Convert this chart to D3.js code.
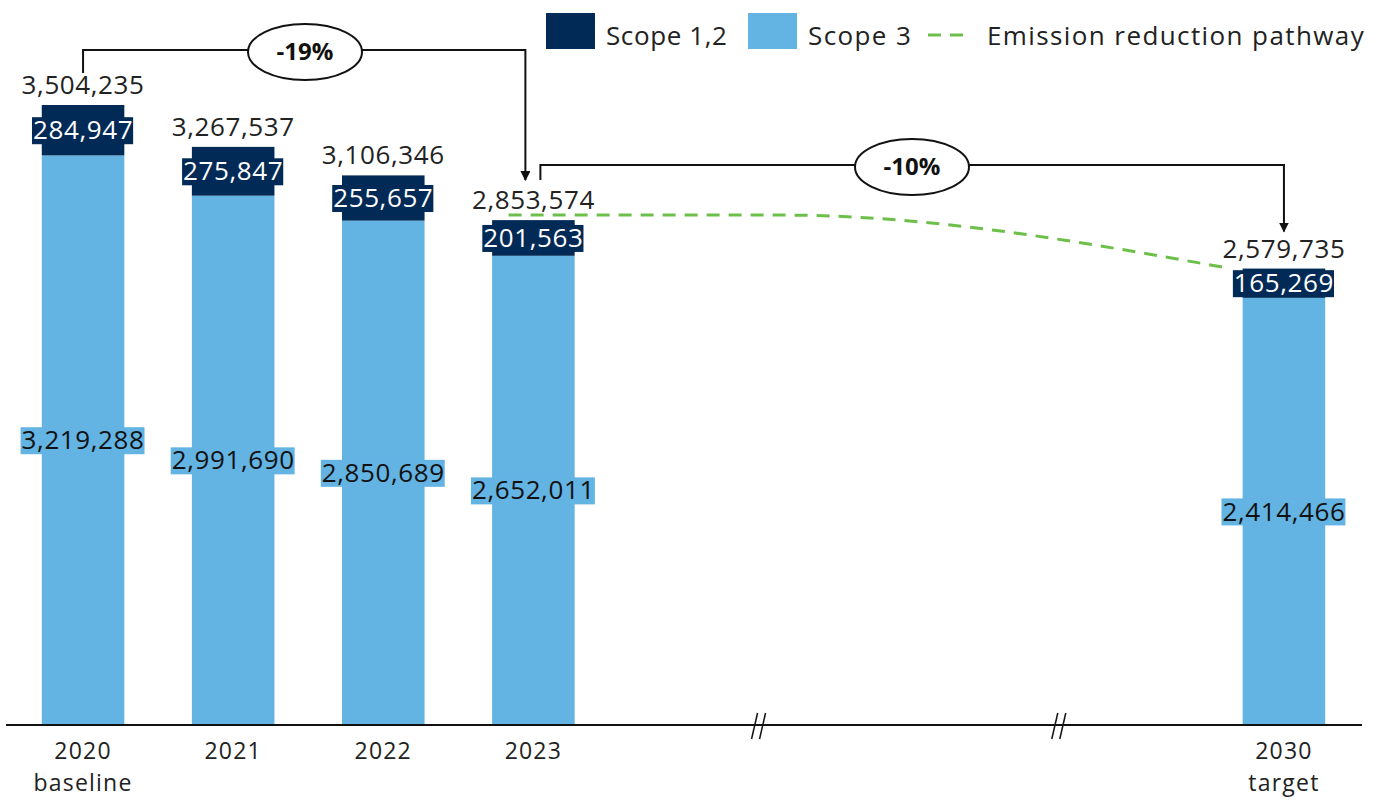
<!DOCTYPE html>
<html>
<head>
<meta charset="utf-8">
<script src="https://cdn.jsdelivr.net/npm/d3@7"></script>
<style>
  body { margin: 0; background: #fff; }
  text { font-family: "Open Sans", sans-serif; }
</style>
</head>
<body>
<svg width="1388" height="800"></svg>
<script>
var years = ["2020", "2021", "2022", "2023", "2030"];
var subLabels = ["baseline", "", "", "", "target"];
var scope12 = [284947, 275847, 255657, 201563, 165269];
var scope3 = [3219288, 2991690, 2850689, 2652011, 2414466];
var totals = [3504235, 3267537, 3106346, 2853574, 2579735];
// empty slots between 2023 and 2030
var slots = ["2020", "2021", "2022", "2023", "g1", "g2", "g3", "g4", "2030"];
var breaks = ["g1", "g3"];
var pathSlots = ["2023", "g2", "2030"];
var pathValues = [2882000, 2882000, 2583000];
var changes = ["-19%", "-10%"];

var svg = d3.select("svg"),
    width = 1388,
    height = 800,
    baseY = 725,
    fs = 26;

var dark = "#022a56", light = "#63b3e3", green = "#6cc04a";
var fmt = d3.format(",");

var x = d3.scaleBand()
  .domain(slots)
  .range([8, 1359])
  .paddingInner(0.45)
  .paddingOuter(0.225);

var y = d3.scaleLinear()
  .domain([0, totals[0]])
  .range([baseY, 105]);

var bw = x.bandwidth();
var cx = function(s) { return x(s) + bw / 2; };

var data = years.map(function(yr, i) {
  return {year: yr, sub: subLabels[i], s12: scope12[i], s3: scope3[i], total: totals[i]};
});

// bars
var g = svg.append("g");
var bar = g.selectAll("g.bar").data(data).enter().append("g").attr("class", "bar");

bar.append("rect")
  .attr("x", function(d) { return x(d.year); })
  .attr("width", bw)
  .attr("y", function(d) { return y(d.s3); })
  .attr("height", function(d) { return baseY - y(d.s3); })
  .attr("fill", light);

bar.append("rect")
  .attr("x", function(d) { return x(d.year); })
  .attr("width", bw)
  .attr("y", function(d) { return y(d.total); })
  .attr("height", function(d) { return y(d.s3) - y(d.total); })
  .attr("fill", dark);

// labels with background boxes
function boxLabel(sel, ty, txt, fill, color) {
  var t = sel.append("text")
    .attr("x", function(d) { return cx(d.year); })
    .attr("y", ty)
    .attr("text-anchor", "middle")
    .attr("dy", "0.35em")
    .attr("font-size", fs)
    .attr("letter-spacing", 0.6)
    .attr("fill", color)
    .text(txt);
  t.each(function() {
    var b = this.getBBox();
    var node = this;
    d3.select(this.parentNode).insert("rect", function() { return node; })
      .attr("x", b.x - 1).attr("y", ty - 13)
      .attr("width", b.width + 1).attr("height", 27)
      .attr("fill", fill);
  });
}
bar.each(function(d) {
  var s = d3.select(this);
  boxLabel(s, (y(d.total) + y(d.s3)) / 2, fmt(d.s12), dark, "#fff");
  boxLabel(s, (y(d.s3) + baseY) / 2, fmt(d.s3), light, "#111");
});

bar.append("text")
  .attr("x", function(d) { return cx(d.year); })
  .attr("y", function(d) { return y(d.total) - 11; })
  .attr("text-anchor", "middle")
  .attr("font-size", fs)
  .attr("letter-spacing", 0.6)
  .attr("fill", "#222")
  .text(function(d) { return fmt(d.total); });

// axis
svg.append("line")
  .attr("x1", 6).attr("x2", 1362)
  .attr("y1", baseY).attr("y2", baseY)
  .attr("stroke", "#111").attr("stroke-width", 2);

breaks.forEach(function(s) {
  var bx = x(s) + x.step() * (1 - x.paddingInner() / 2);
  [-4, 4].forEach(function(o) {
    svg.append("line")
      .attr("x1", bx + o + 3).attr("y1", baseY - 12)
      .attr("x2", bx + o - 3).attr("y2", baseY + 14)
      .attr("stroke", "#111").attr("stroke-width", 1.5);
  });
});

var xl = svg.append("g").selectAll("g").data(data).enter().append("g")
  .attr("font-size", 23)
  .attr("letter-spacing", 1.2)
  .attr("fill", "#222")
  .attr("text-anchor", "middle");
xl.append("text")
  .attr("x", function(d) { return cx(d.year); })
  .attr("y", 759)
  .text(function(d) { return d.year; });
xl.append("text")
  .attr("x", function(d) { return cx(d.year); })
  .attr("y", 791)
  .text(function(d) { return d.sub; });

// pathway
var pathPts = pathSlots.map(function(s, i) { return [0, y(pathValues[i])]; });
pathPts[0][0] = x("2023") + bw * 0.2;
pathPts[1][0] = x("g2") - 10;
pathPts[2][0] = x("2030") - 15;
svg.append("path")
  .attr("d", d3.line().curve(d3.curveMonotoneX)(pathPts))
  .attr("fill", "none")
  .attr("stroke", green)
  .attr("stroke-width", 3)
  .attr("stroke-dasharray", "13,9");

// change annotations
svg.append("defs").append("marker")
  .attr("id", "arr")
  .attr("viewBox", "0 0 10 10")
  .attr("refX", 9).attr("refY", 5)
  .attr("markerWidth", 5).attr("markerHeight", 5)
  .attr("orient", "auto")
  .append("path").attr("d", "M0,0L10,5L0,10z").attr("fill", "#111");

function bracket(x1, y1, yTop, x2, y2, label, ex) {
  svg.append("path")
    .attr("d", "M" + x1 + "," + y1 + "V" + yTop + "H" + x2 + "V" + y2)
    .attr("fill", "none")
    .attr("stroke", "#111")
    .attr("stroke-width", 2)
    .attr("marker-end", "url(#arr)");
  svg.append("ellipse")
    .attr("cx", ex).attr("cy", yTop + 2)
    .attr("rx", 57).attr("ry", 28)
    .attr("fill", "#fff").attr("stroke", "#111").attr("stroke-width", 2);
  svg.append("text")
    .attr("x", ex).attr("y", yTop + 2)
    .attr("dy", "0.35em")
    .attr("text-anchor", "middle")
    .attr("font-size", 24)
    .attr("font-weight", "bold")
    .attr("fill", "#111")
    .text(label);
}
bracket(cx("2020"), y(totals[0]) - 32, 50, cx("2023") - 8, y(totals[3]) - 40, changes[0], 305);
bracket(cx("2023") + 7, y(totals[3]) - 40, 165, cx("2030"), y(totals[4]) - 37, changes[1], 912);

// legend
var lg = svg.append("g").attr("font-size", fs).attr("letter-spacing", 1.4).attr("fill", "#222");
lg.append("rect").attr("x", 546).attr("y", 13).attr("width", 49).attr("height", 36).attr("fill", dark);
lg.append("text").attr("x", 606).attr("y", 45).attr("letter-spacing", 0.6).text("Scope 1,2");
lg.append("rect").attr("x", 748).attr("y", 13).attr("width", 49).attr("height", 36).attr("fill", light);
lg.append("text").attr("x", 808).attr("y", 45).text("Scope 3");
lg.append("line").attr("x1", 928).attr("x2", 968).attr("y1", 35).attr("y2", 35)
  .attr("stroke", green).attr("stroke-width", 3).attr("stroke-dasharray", "13,9");
lg.append("text").attr("x", 987).attr("y", 45).text("Emission reduction pathway");
</script>
</body>
</html>
